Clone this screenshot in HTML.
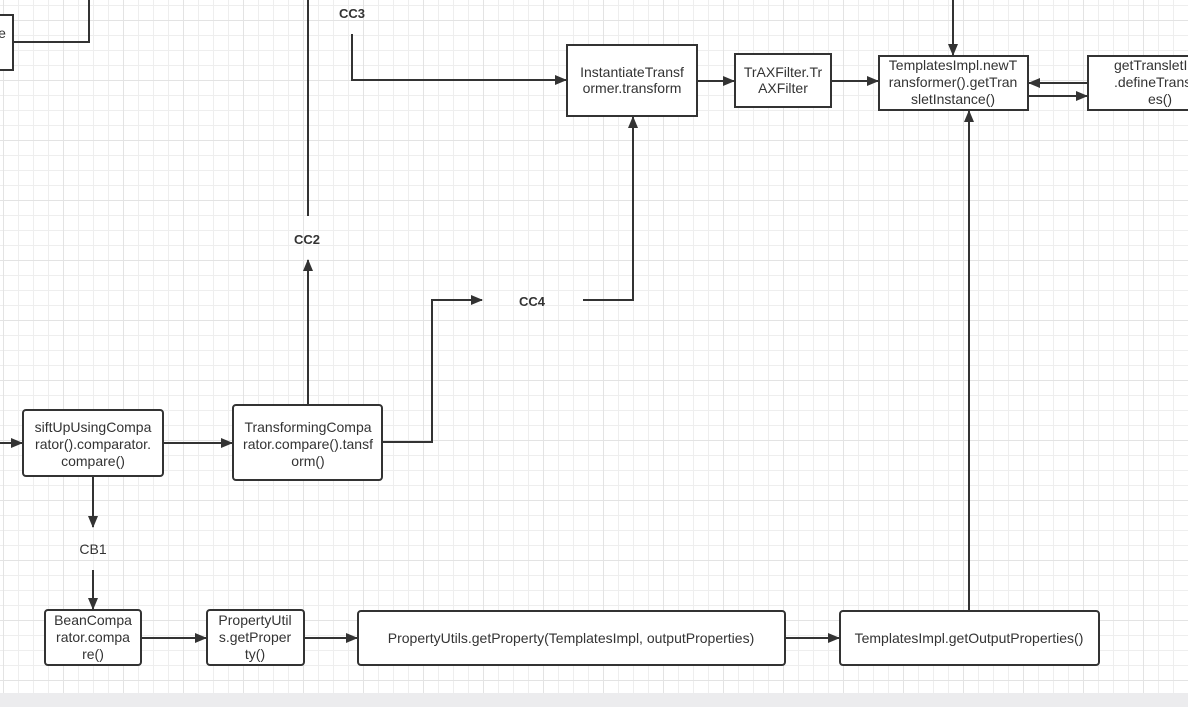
<!DOCTYPE html>
<html><head><meta charset="utf-8"><style>
html,body{margin:0;padding:0;width:1188px;height:707px;overflow:hidden;background:#fff}
svg{display:block}
text{font-family:"Liberation Sans",Arial,sans-serif;font-size:14px;fill:#333}
.b{font-weight:bold;font-size:13px}
</style></head><body>
<svg width="1188" height="707" viewBox="0 0 1188 707">
<defs>
<pattern id="minor" x="3" y="5" width="15" height="15" patternUnits="userSpaceOnUse">
<path d="M0.5 0V15M0 0.5H15" stroke="#eeeeee" stroke-width="1" fill="none"/>
</pattern>
<pattern id="major" x="3" y="20" width="60" height="60" patternUnits="userSpaceOnUse">
<path d="M0.5 0V60M0 0.5H60" stroke="#e3e3e3" stroke-width="1" fill="none"/>
</pattern>
<marker id="a" markerWidth="12" markerHeight="10" refX="11" refY="5" orient="auto" markerUnits="userSpaceOnUse">
<path d="M0 0L12 5L0 10z" fill="#333"/>
</marker>
</defs>
<rect width="1188" height="693" fill="url(#minor)"/>
<rect width="1188" height="693" fill="url(#major)"/>
<rect y="693" width="1188" height="14" fill="#ececee"/>

<g stroke="#333" stroke-width="2" fill="none">
<path d="M13 42H89V0"/>
<path d="M308 0V216"/>
<path d="M352 34V80H566" marker-end="url(#a)"/>
<path d="M697 81H734" marker-end="url(#a)"/>
<path d="M831 81H878" marker-end="url(#a)"/>
<path d="M953 0V55" marker-end="url(#a)"/>
<path d="M1088 83H1029" marker-end="url(#a)"/>
<path d="M1028 96H1087" marker-end="url(#a)"/>
<path d="M583 300H633V117" marker-end="url(#a)"/>
<path d="M382 442H432V300H482" marker-end="url(#a)"/>
<path d="M308 405V260" marker-end="url(#a)"/>
<path d="M0 443H22" marker-end="url(#a)"/>
<path d="M163 443H232" marker-end="url(#a)"/>
<path d="M93 476V527" marker-end="url(#a)"/>
<path d="M93 570V609" marker-end="url(#a)"/>
<path d="M141 638H206" marker-end="url(#a)"/>
<path d="M304 638H357" marker-end="url(#a)"/>
<path d="M785 638H839" marker-end="url(#a)"/>
<path d="M969 611V111" marker-end="url(#a)"/>
</g>

<g stroke="#333" stroke-width="2" fill="#fff">
<rect x="-5" y="15" width="18" height="55"/>
<rect x="567" y="45" width="130" height="71"/>
<rect x="735" y="54" width="96" height="53"/>
<rect x="879" y="56" width="149" height="54"/>
<rect x="1088" y="56" width="110" height="54"/>
<rect x="23" y="410" width="140" height="66" rx="3"/>
<rect x="233" y="405" width="149" height="75" rx="3"/>
<rect x="45" y="610" width="96" height="55" rx="3"/>
<rect x="207" y="610" width="97" height="55" rx="3"/>
<rect x="358" y="611" width="427" height="54" rx="3"/>
<rect x="840" y="611" width="259" height="54" rx="3"/>
</g>

<g text-anchor="middle">
<text x="2" y="38">e</text>
<text class="b" x="352" y="18">CC3</text>
<text class="b" x="307" y="244">CC2</text>
<text class="b" x="532" y="306">CC4</text>
<text x="93" y="554">CB1</text>
<text x="632" y="77">InstantiateTransf</text>
<text x="632" y="93">ormer.transform</text>
<text x="783" y="77">TrAXFilter.Tr</text>
<text x="783" y="93">AXFilter</text>
<text x="953" y="70">TemplatesImpl.newT</text>
<text x="953" y="87">ransformer().getTran</text>
<text x="953" y="104">sletInstance()</text>
<text x="1160" y="70">getTransletInst</text>
<text x="1160" y="87">.defineTranslet</text>
<text x="1160" y="104">es()</text>
<text x="93" y="432">siftUpUsingCompa</text>
<text x="93" y="449">rator().comparator.</text>
<text x="93" y="466">compare()</text>
<text x="308" y="432">TransformingCompa</text>
<text x="308" y="449">rator.compare().tansf</text>
<text x="308" y="466">orm()</text>
<text x="93" y="625">BeanCompa</text>
<text x="93" y="642">rator.compa</text>
<text x="93" y="659">re()</text>
<text x="255" y="625">PropertyUtil</text>
<text x="255" y="642">s.getProper</text>
<text x="255" y="659">ty()</text>
<text x="571" y="643">PropertyUtils.getProperty(TemplatesImpl, outputProperties)</text>
<text x="969" y="643">TemplatesImpl.getOutputProperties()</text>
</g>
</svg>
</body></html>
